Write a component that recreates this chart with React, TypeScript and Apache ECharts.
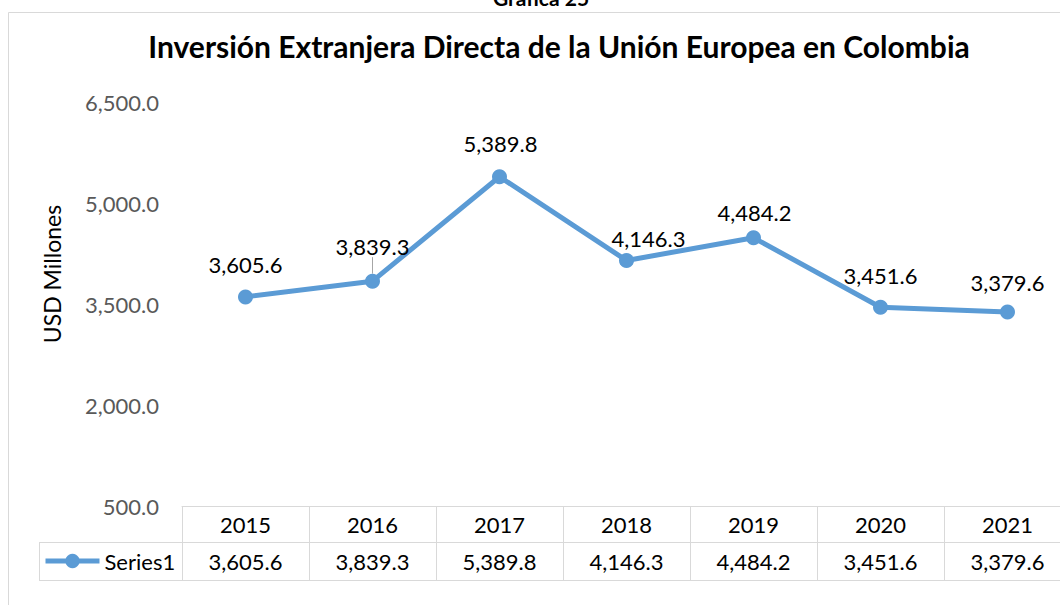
import React, { useEffect, useRef } from "react";
import * as echarts from "echarts";

const years = ["2015", "2016", "2017", "2018", "2019", "2020", "2021"];
const values = [3605.6, 3839.3, 5389.8, 4146.3, 4484.2, 3451.6, 3379.6];
const seriesName = "Series1";
const chartTitle = "Inversión Extranjera Directa de la Unión Europea en Colombia";
const topCaption = "Gráfica 25";
const yAxisName = "USD Millones";
const yMin = 500;
const yMax = 6500;
const yStep = 1500;

// label placement (pixel offsets from each point), layout only
const labelOffsets: number[][] = [
  [0, -32],
  [0, -35],
  [1, -33],
  [22, -22],
  [1, -25],
  [0, -32],
  [0, -30],
];

const FONT = "Lato, 'Open Sans', sans-serif";
const fmt = (v: number) =>
  v.toLocaleString("en-US", { minimumFractionDigits: 1, maximumFractionDigits: 1 });

export default function App() {
  const ref = useRef<HTMLDivElement>(null);
  useEffect(() => {
    document.body.style.margin = "0";
    const chart = echarts.init(ref.current!, undefined, { renderer: "svg" });
    const gridColor = "#d9d9d9";
    chart.setOption({
      animation: false,
      backgroundColor: "#ffffff",
      title: {
        text: chartTitle,
        left: 554,
        top: 26,
        textAlign: "center",
        textStyle: { fontFamily: FONT, fontSize: 30, fontWeight: "bold", color: "#000" },
      },
      legend: {
        data: [seriesName],
        left: 43,
        top: 550,
        padding: 0,
        itemWidth: 54,
        itemHeight: 18,
        lineStyle: { width: 5, color: "#5b9bd5" },
        textStyle: { fontFamily: FONT, fontSize: 22, color: "#000" },
      },
      grid: { left: 182, top: 102, width: 889, height: 404 },
      xAxis: {
        type: "category",
        data: years,
        boundaryGap: true,
        axisLine: { show: true, lineStyle: { color: gridColor, width: 1 } },
        axisTick: { show: true, interval: 0, length: 74, lineStyle: { color: gridColor, width: 1 } },
        axisLabel: {
          interval: 0,
          margin: 0,
          formatter: (val: string, idx: number) => `{y|${val}}\n{v|${fmt(values[idx])}}`,
          rich: {
            y: { fontFamily: FONT, fontSize: 22, color: "#000", lineHeight: 36 },
            v: { fontFamily: FONT, fontSize: 22, color: "#000", lineHeight: 38 },
          },
        },
        splitLine: { show: false },
      },
      yAxis: {
        type: "value",
        min: yMin,
        max: yMax,
        interval: yStep,
        axisLine: { show: false },
        axisTick: { show: false },
        splitLine: { show: false },
        axisLabel: {
          margin: 23,
          fontFamily: FONT,
          fontSize: 22,
          color: "#595959",
          formatter: (v: number) => fmt(v),
        },
      },
      series: [
        {
          name: seriesName,
          type: "line",
          data: values.map((v, i) => ({
            value: v,
            label: { offset: labelOffsets[i] },
            labelLine: i === 1 ? { show: true, lineStyle: { color: "#a6a6a6", width: 1 } } : { show: false },
          })),
          symbol: "circle",
          symbolSize: 15,
          lineStyle: { color: "#5b9bd5", width: 5 },
          itemStyle: { color: "#5b9bd5" },
          label: {
            show: true,
            position: "inside",
            fontFamily: FONT,
            fontSize: 22,
            color: "#000",
            formatter: (p: any) => fmt(p.value),
          },
        },
      ],
      graphic: [
        {
          type: "rect",
          shape: { x: 8.5, y: 12.5, width: 1200, height: 800 },
          style: { fill: "none", stroke: gridColor, lineWidth: 1 },
          silent: true,
          z: -1,
        },
        {
          type: "text",
          x: 541,
          y: -3,
          style: {
            text: topCaption,
            fontFamily: FONT,
            fontSize: 21,
            fontWeight: "bold",
            fill: "#000",
            align: "center",
            verticalAlign: "middle",
          },
        },
        {
          type: "text",
          x: 52,
          y: 274,
          rotation: Math.PI / 2,
          style: {
            text: yAxisName,
            fontFamily: FONT,
            fontSize: 23,
            fill: "#000",
            align: "center",
            verticalAlign: "middle",
          },
        },
        {
          type: "line",
          shape: { x1: 39, y1: 542.5, x2: 1100, y2: 542.5 },
          style: { stroke: gridColor, lineWidth: 1 },
          silent: true,
        },
        {
          type: "line",
          shape: { x1: 39, y1: 580.5, x2: 1100, y2: 580.5 },
          style: { stroke: gridColor, lineWidth: 1 },
          silent: true,
        },
        {
          type: "line",
          shape: { x1: 39.5, y1: 542, x2: 39.5, y2: 581 },
          style: { stroke: gridColor, lineWidth: 1 },
          silent: true,
        },
      ],
    });
    return () => chart.dispose();
  }, []);
  return (
    <div style={{ position: "absolute", left: 0, top: 0, width: 1060, height: 605, overflow: "hidden" }}>
      <div ref={ref} style={{ width: 1100, height: 605 }} />
    </div>
  );
}
